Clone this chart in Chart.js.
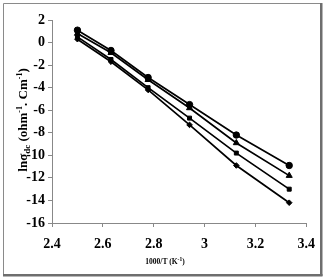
<!DOCTYPE html>
<html>
<head>
<meta charset="utf-8">
<script src="https://cdn.jsdelivr.net/npm/chart.js@4/dist/chart.umd.min.js"></script>
<style>
    html, body { margin: 0; padding: 0; background: #fff; }
    #wrap { width: 324px; height: 279px; position: relative; }
</style>
</head>
<body>
<div id="wrap"><canvas id="arrheniusChart" width="324" height="279"></canvas></div>
<script>
// 1000/T values
const xValues = [2.5, 2.632, 2.778, 2.941, 3.125, 3.333];

const seriesCircle   = [1.1, -0.7, -3.1, -5.5, -8.2, -10.9];
const seriesTriangle = [0.8, -0.9, -3.3, -5.8, -8.9, -11.8];
const seriesSquare   = [0.5, -1.5, -4.0, -6.7, -9.8, -13.0];
const seriesDiamond  = [0.3, -1.7, -4.2, -7.3, -10.9, -14.2];

const xTicks = [2.4, 2.6, 2.8, 3, 3.2, 3.4];
const yTicks = [2, 0, -2, -4, -6, -8, -10, -12, -14, -16];

const tickFont = { family: '"Liberation Serif", "Times New Roman", serif', size: 14, weight: 'bold' };

function toPoints(values) {
    return values.map(function (v, i) { return { x: xValues[i], y: v }; });
}

function makeSet(label, values, style, radius) {
    return {
        label: label,
        data: toPoints(values),
        borderColor: '#000',
        backgroundColor: '#000',
        borderWidth: 1.7,
        pointStyle: style,
        pointRadius: radius,
        pointBorderWidth: 1,
        tension: 0
    };
}

// gray frame round the whole picture
const framePlugin = {
    id: 'frame',
    beforeDraw: function (chart) {
        const ctx = chart.ctx;
        ctx.save();
        ctx.fillStyle = '#fff';
        ctx.fillRect(0, 0, chart.width, chart.height);
        ctx.strokeStyle = '#8a8a8a';
        ctx.lineWidth = 1;
        ctx.beginPath();
        ctx.moveTo(3.5, 274);
        ctx.lineTo(3.5, 3.5);
        ctx.lineTo(320, 3.5);
        ctx.stroke();
        ctx.fillStyle = '#6e6e6e';
        ctx.fillRect(320, 3, 2.5, 273);
        ctx.fillRect(3, 274, 319.5, 2.5);
        ctx.restore();
    }
};

// axis titles with sub/superscripts
const titlesPlugin = {
    id: 'titles',
    afterDraw: function (chart) {
        const ctx = chart.ctx;
        const fam = '"Liberation Serif", "Times New Roman", serif';
        function drawRuns(runs, x, y) {
            let total = 0;
            runs.forEach(function (r) {
                ctx.font = 'bold ' + r.size + 'px ' + fam;
                r.w = ctx.measureText(r.t).width;
                total += r.w;
            });
            let cx = x - total / 2;
            runs.forEach(function (r) {
                ctx.font = 'bold ' + r.size + 'px ' + fam;
                ctx.fillText(r.t, cx, y + (r.dy || 0));
                cx += r.w;
            });
        }
        ctx.save();
        ctx.fillStyle = '#000';
        ctx.textBaseline = 'alphabetic';
        ctx.textAlign = 'left';

        ctx.translate(22, 120);
        ctx.rotate(-Math.PI / 2);
        drawRuns([
            { t: 'ln\u03c3', size: 13 },
            { t: 'dc', size: 9, dy: 3 },
            { t: ' (ohm', size: 13 },
            { t: '-1', size: 8, dy: -5 },
            { t: '. Cm', size: 13 },
            { t: '-1', size: 8, dy: -5 },
            { t: ')', size: 13 }
        ], 0, 5);
        ctx.setTransform(1, 0, 0, 1, 0, 0);

        drawRuns([
            { t: '1000/T (K', size: 7.5 },
            { t: '-1', size: 5.5, dy: -3 },
            { t: ')', size: 7.5 }
        ], 165, 264);
        ctx.restore();
    }
};

new Chart(document.getElementById('arrheniusChart').getContext('2d'), {
    type: 'line',
    data: {
        datasets: [
            makeSet('a', seriesCircle, 'circle', 3.2),
            makeSet('b', seriesTriangle, 'triangle', 3.5),
            makeSet('c', seriesSquare, 'rect', 2.8),
            makeSet('d', seriesDiamond, 'rectRot', 2.8)
        ]
    },
    options: {
        responsive: false,
        animation: false,
        devicePixelRatio: 1,
        layout: { padding: { top: 20, right: 15, left: 0, bottom: 0 } },
        plugins: {
            legend: { display: false },
            tooltip: { enabled: false }
        },
        scales: {
            x: {
                type: 'linear',
                min: 2.4,
                max: 3.4,
                afterBuildTicks: function (scale) {
                    scale.ticks = xTicks.map(function (v) { return { value: v }; });
                },
                afterFit: function (scale) { scale.height = 56; },
                grid: {
                    display: true,
                    drawOnChartArea: false,
                    drawTicks: true,
                    tickLength: 4,
                    color: '#888'
                },
                border: { color: '#888', width: 1 },
                ticks: {
                    color: '#000',
                    font: tickFont,
                    padding: 9,
                    maxRotation: 0,
                    callback: function (v) { return String(Math.round(v * 10) / 10); }
                }
            },
            y: {
                type: 'linear',
                min: -16,
                max: 2,
                afterBuildTicks: function (scale) {
                    scale.ticks = yTicks.map(function (v) { return { value: v }; });
                },
                afterFit: function (scale) { scale.width = 52; },
                grid: {
                    display: true,
                    drawOnChartArea: false,
                    drawTicks: true,
                    tickLength: 4,
                    color: '#888'
                },
                border: { color: '#888', width: 1 },
                ticks: {
                    color: '#000',
                    font: tickFont,
                    padding: 3
                }
            }
        }
    },
    plugins: [framePlugin, titlesPlugin]
});
</script>
</body>
</html>
